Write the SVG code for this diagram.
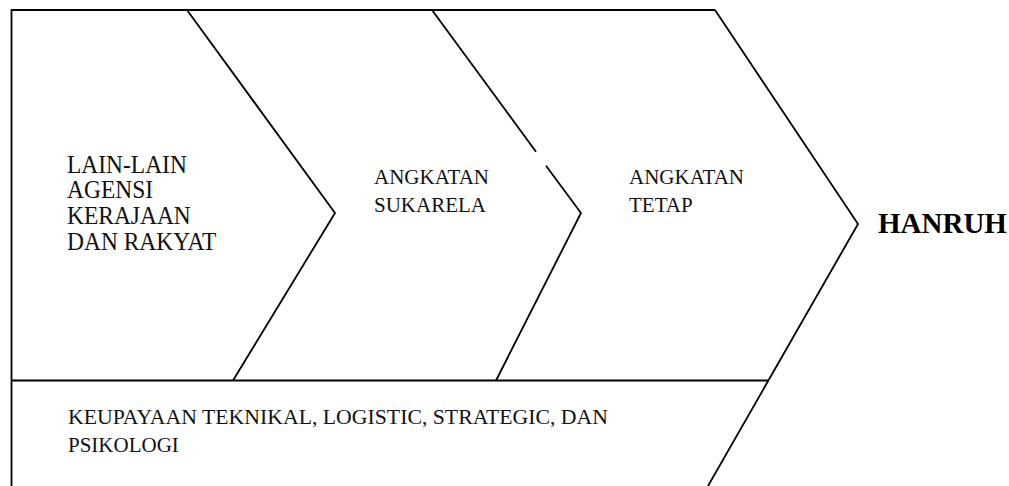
<svg xmlns="http://www.w3.org/2000/svg" width="1009" height="486" viewBox="0 0 1009 486">
<style>
.ln{fill:none;stroke:#000;stroke-width:1.8;stroke-linejoin:miter;stroke-linecap:butt}
.tt{font-family:"Liberation Serif","Times New Roman",serif;font-size:25.5px;fill:#111}
.cb{font-family:"Liberation Serif","Times New Roman",serif;font-size:21px;fill:#111}
.hb{font-family:"Liberation Serif","Times New Roman",serif;font-size:29px;font-weight:bold;fill:#000}
</style>
<rect width="1009" height="486" fill="#fff"/>
<g id="connectors">
<polyline class="ln" points="11.5,486 11.5,10 715,10"/>
<line class="ln" x1="11.5" y1="380.5" x2="769" y2="380.5"/>
<polyline class="ln" points="187,10 335,213 233,380.5"/>
<polyline class="ln" points="432,10 536,151.7"/>
<polyline class="ln" points="546,165.7 581,213 496,380.5"/>
<polyline class="ln" points="715,10 858,224 708,486"/>
</g>
<g id="node-lain" transform="translate(67,0) scale(0.92,1)">
<text class="tt" x="0" y="173">LAIN-LAIN</text>
<text class="tt" x="0" y="198.5">AGENSI</text>
<text class="tt" x="0" y="224">KERAJAAN</text>
<text class="tt" x="0" y="250">DAN RAKYAT</text>
</g>
<g id="node-sukarela">
<text class="cb" x="374" y="184">ANGKATAN</text>
<text class="cb" x="374" y="212">SUKARELA</text>
</g>
<g id="node-tetap">
<text class="cb" x="629" y="184">ANGKATAN</text>
<text class="cb" x="629" y="212">TETAP</text>
</g>
<g id="node-hanruh">
<text class="hb" x="878" y="233">HANRUH</text>
</g>
<g id="node-keupayaan">
<text class="cb" x="68" y="424" textLength="540" lengthAdjust="spacingAndGlyphs">KEUPAYAAN TEKNIKAL, LOGISTIC, STRATEGIC, DAN</text>
<text class="cb" x="68" y="452">PSIKOLOGI</text>
</g>
</svg>
